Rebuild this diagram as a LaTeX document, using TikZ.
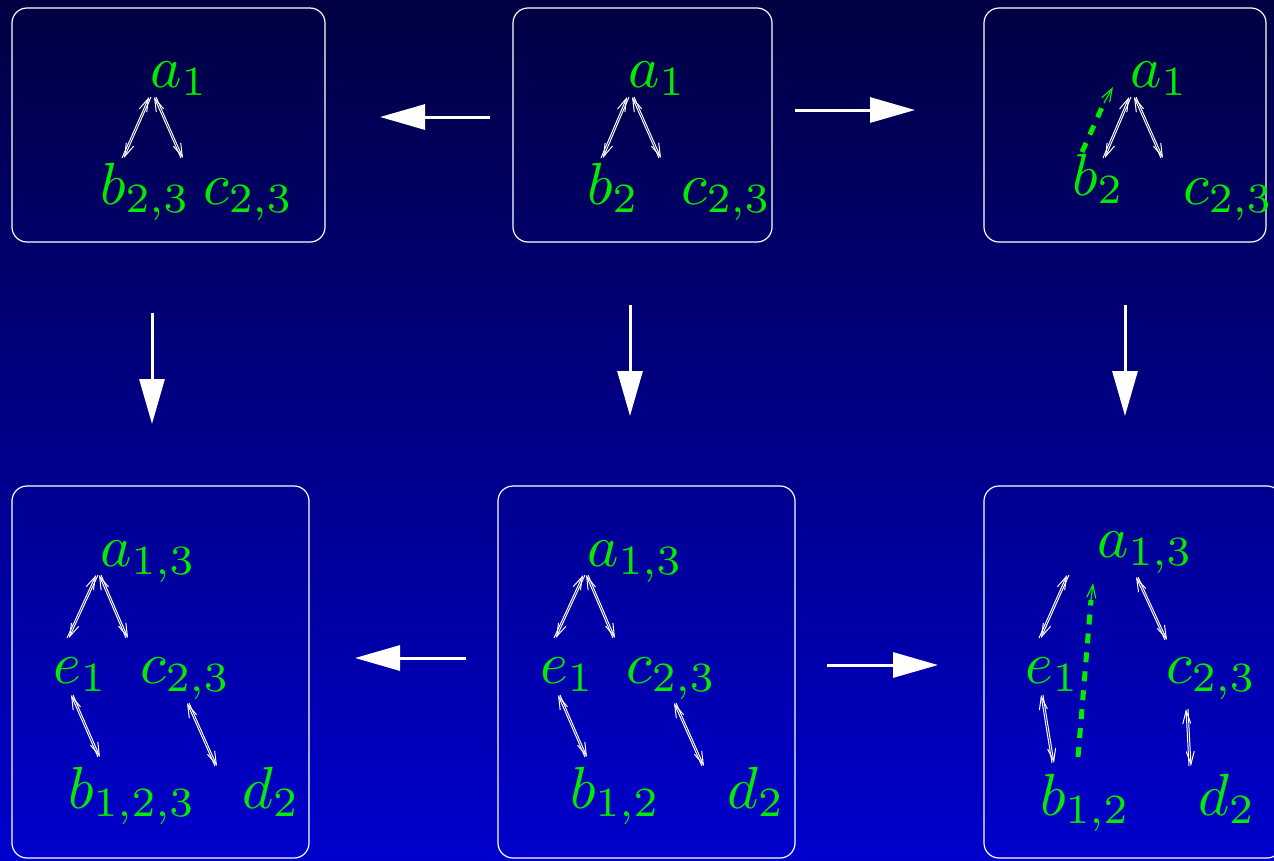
\documentclass[tikz,border=0pt]{standalone}
\usepackage{fix-cm}
\DeclareFontShape{OML}{cmm}{m}{it}{<-45> cmmi7 <45-> cmmi10}{}
\DeclareFontShape{OT1}{cmr}{m}{n}{<-45> cmr7 <45-> cmr10}{}
\usetikzlibrary{arrows.meta}
\definecolor{lgreen}{RGB}{0,236,0}
\definecolor{bgtop}{RGB}{0,0,66}
\definecolor{bgbot}{RGB}{0,0,204}
\tikzset{
 lbl/.style={anchor=base west, inner sep=0pt, text=lgreen, font=\fontsize{59.5}{64}\selectfont},
 panel/.style={draw=white, line width=1.2pt, rounded corners=15pt},
 bigarrow/.style={draw=white, line width=3pt, -{Triangle[length=45pt,width=25pt]}},
 thinarr/.style={draw=white, line width=1pt, -{Straight Barb[length=13pt,width=8pt]}},
 gdash/.style={draw=lgreen, line width=5pt, dash pattern=on 10pt off 9pt},
 gtip/.style={draw=lgreen, line width=1.2pt, -{Straight Barb[length=13pt,width=9pt]}},
}
\newcommand{\dbl}[2]{%
 \draw[thinarr] ([xshift=-1pt]#2) -- ([xshift=-1pt]#1);
 \draw[thinarr] ([xshift=1pt]#1) -- ([xshift=1pt]#2);}
\begin{document}
\begin{tikzpicture}[x=1pt,y=-1pt]
\clip (0,0) rectangle (1274,860);
\shade[top color=bgtop, bottom color=bgbot] (0,0) rectangle (1274,860);

% panels
\draw[panel] (12,8) rectangle (325,242);
\draw[panel] (513,8) rectangle (772,242);
\draw[panel] (984,8) rectangle (1266,242);
\draw[panel] (12,486) rectangle (309,858);
\draw[panel] (498,486) rectangle (795,858);
\draw[panel] (984,486) rectangle (1282,858);

% panel 1
\node[lbl] (p1a) at (150,87) {$a_1$};
\node[lbl] (p1b) at (100,204) {$b_{2,3}$};
\node[lbl] (p1c) at (203,204) {$c_{2,3}$};
\coordinate (p1t1) at (150,97); \coordinate (p1s1) at (123,158);
\coordinate (p1t2) at (155,97); \coordinate (p1s2) at (182,158);
\dbl{p1t1}{p1s1}\dbl{p1t2}{p1s2}

% panel 2
\node[lbl] (p2a) at (628,87) {$a_1$};
\node[lbl] (p2b) at (587,204) {$b_2$};
\node[lbl] (p2c) at (681,204) {$c_{2,3}$};
\coordinate (p2t1) at (628,97); \coordinate (p2s1) at (602,158);
\coordinate (p2t2) at (633,97); \coordinate (p2s2) at (660,158);
\dbl{p2t1}{p2s1}\dbl{p2t2}{p2s2}

% panel 3
\node[lbl] (p3a) at (1130,87) {$a_1$};
\node[lbl] (p3b) at (1072,195) {$b_2$};
\node[lbl] (p3c) at (1183,204) {$c_{2,3}$};
\coordinate (p3t1) at (1130,97); \coordinate (p3s1) at (1104,158);
\coordinate (p3t2) at (1135,97); \coordinate (p3s2) at (1162,158);
\dbl{p3t1}{p3s1}\dbl{p3t2}{p3s2}
\coordinate (p3g0) at (1082,152); \coordinate (p3g1) at (1104,103);
\coordinate (p3g2) at (1113,87);
\draw[gdash] (p3g0) -- (p3g1);
\draw[gtip] (p3g1) -- (p3g2);

% panel 4
\node[lbl] (p4a) at (100,566) {$a_{1,3}$};
\node[lbl] (p4e) at (53,683) {$e_1$};
\node[lbl] (p4c) at (140,683) {$c_{2,3}$};
\node[lbl] (p4b) at (68,808) {$b_{1,2,3}$};
\node[lbl] (p4d) at (242,808) {$d_2$};
\coordinate (p4t1) at (97,575); \coordinate (p4s1) at (68,638);
\coordinate (p4t2) at (100,575); \coordinate (p4s2) at (127,638);
\coordinate (p4t3) at (72,695); \coordinate (p4s3) at (99,757);
\coordinate (p4t4) at (188,703); \coordinate (p4s4) at (216,766);
\dbl{p4t1}{p4s1}\dbl{p4t2}{p4s2}\dbl{p4t3}{p4s3}\dbl{p4t4}{p4s4}

% panel 5
\node[lbl] (p5a) at (587,566) {$a_{1,3}$};
\node[lbl] (p5e) at (540,683) {$e_1$};
\node[lbl] (p5c) at (626,683) {$c_{2,3}$};
\node[lbl] (p5b) at (570,808) {$b_{1,2}$};
\node[lbl] (p5d) at (727,808) {$d_2$};
\coordinate (p5t1) at (584,575); \coordinate (p5s1) at (555,638);
\coordinate (p5t2) at (587,575); \coordinate (p5s2) at (614,638);
\coordinate (p5t3) at (559,695); \coordinate (p5s3) at (586,757);
\coordinate (p5t4) at (675,703); \coordinate (p5s4) at (703,766);
\dbl{p5t1}{p5s1}\dbl{p5t2}{p5s2}\dbl{p5t3}{p5s3}\dbl{p5t4}{p5s4}

% panel 6
\node[lbl] (p6a) at (1097,557) {$a_{1,3}$};
\node[lbl] (p6e) at (1025,683) {$e_1$};
\node[lbl] (p6c) at (1166,683) {$c_{2,3}$};
\node[lbl] (p6b) at (1040,815) {$b_{1,2}$};
\node[lbl] (p6d) at (1198,815) {$d_2$};
\coordinate (p6t1) at (1068,575); \coordinate (p6s1) at (1040,638);
\coordinate (p6t2) at (1137,577); \coordinate (p6s2) at (1166,640);
\coordinate (p6t3) at (1042,695); \coordinate (p6s3) at (1053,763);
\coordinate (p6t4) at (1187,709); \coordinate (p6s4) at (1190,766);
\dbl{p6t1}{p6s1}\dbl{p6t2}{p6s2}\dbl{p6t3}{p6s3}\dbl{p6t4}{p6s4}
\coordinate (p6g0) at (1078,757); \coordinate (p6g1) at (1091,600);
\coordinate (p6g2) at (1093,583);
\draw[gdash] (p6g0) -- (p6g1);
\draw[gtip] (p6g1) -- (p6g2);

% big arrows between panels
\coordinate (h1s) at (490,117); \coordinate (h1e) at (380,117);
\coordinate (h2s) at (795,110); \coordinate (h2e) at (915,110);
\coordinate (v1s) at (152,313); \coordinate (v1e) at (152,424);
\coordinate (v2s) at (630,305); \coordinate (v2e) at (630,416);
\coordinate (v3s) at (1125,305); \coordinate (v3e) at (1125,416);
\coordinate (h3s) at (466,658); \coordinate (h3e) at (355,658);
\coordinate (h4s) at (827,665); \coordinate (h4e) at (938,665);
\draw[bigarrow] (h1s) -- (h1e);
\draw[bigarrow] (h2s) -- (h2e);
\draw[bigarrow] (v1s) -- (v1e);
\draw[bigarrow] (v2s) -- (v2e);
\draw[bigarrow] (v3s) -- (v3e);
\draw[bigarrow] (h3s) -- (h3e);
\draw[bigarrow] (h4s) -- (h4e);
\end{tikzpicture}
\end{document}
